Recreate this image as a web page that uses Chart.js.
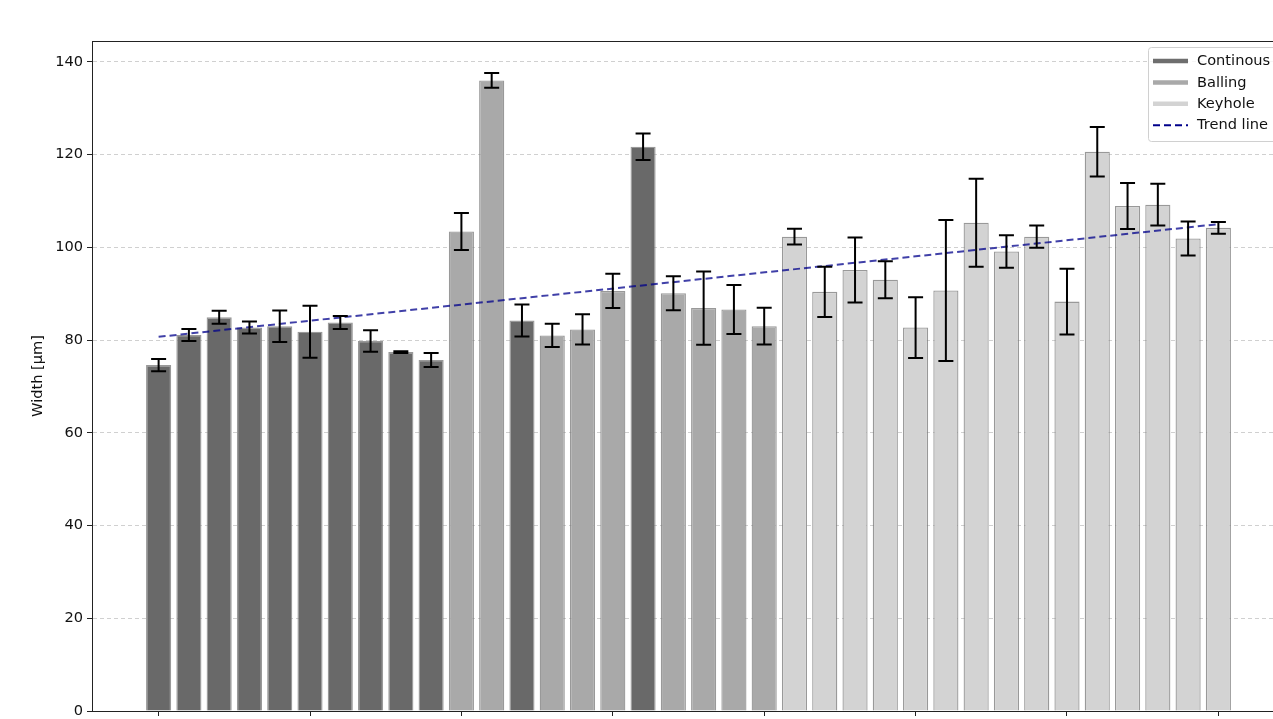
<!DOCTYPE html>
<html>
<head>
<meta charset="utf-8">
<script src="https://cdn.jsdelivr.net/npm/chart.js@4/dist/chart.umd.min.js"></script>
<style>
  html, body { margin: 0; padding: 0; background: #fff; overflow: hidden; }
  #chart { position: absolute; left: 0; top: 0; }
</style>
</head>
<body>
<canvas id="chart" width="1300" height="760"></canvas>
<script>
// mean width per sample, its error and the melt mode
const widths = [74.6, 81.1, 84.9, 82.7, 83.0, 81.8, 83.8, 79.8, 77.4, 75.7,
  103.4, 136.0, 84.2, 81.0, 82.3, 90.6, 121.7, 90.1, 86.9, 86.6, 83.0,
  102.3, 90.4, 95.1, 93.0, 82.7, 90.7, 105.3, 99.1, 102.3, 88.3, 120.6, 108.9, 109.2, 101.9, 104.2];
const errors = [1.3, 1.3, 1.4, 1.3, 3.4, 5.6, 1.4, 2.3, 0.2, 1.5,
  4.0, 1.6, 3.45, 2.5, 3.25, 3.7, 2.85, 3.65, 7.9, 5.3, 3.95,
  1.7, 5.4, 7.0, 4.0, 6.55, 15.2, 9.5, 3.5, 2.4, 7.1, 5.35, 4.95, 4.5, 3.65, 1.25];
const modes = ['C', 'C', 'C', 'C', 'C', 'C', 'C', 'C', 'C', 'C',
  'B', 'B', 'C', 'B', 'B', 'B', 'C', 'B', 'B', 'B', 'B',
  'K', 'K', 'K', 'K', 'K', 'K', 'K', 'K', 'K', 'K', 'K', 'K', 'K', 'K', 'K'];
const trendX = [0, 35];
const trendY = [80.7, 105.0];
const xTicks = [0, 5, 10, 15, 20, 25, 30, 35];
const yTicks = [0, 20, 40, 60, 80, 100, 120, 140];

const modeColors = { C: '#696969', B: '#a9a9a9', K: '#d3d3d3' };
const legendItems = [
  { label: 'Continous', color: '#6e6e6e', dash: [] },
  { label: 'Balling', color: '#a9a9a9', dash: [] },
  { label: 'Keyhole', color: '#d3d3d3', dash: [] },
  { label: 'Trend line', color: '#00008b', dash: [7, 4] }
];
const font = 'DejaVu Sans';
const fontSize = 14.6;

const errorBars = {
  id: 'errorBars',
  afterDatasetsDraw(chart) {
    const { ctx, scales: { x, y } } = chart;
    ctx.save();
    ctx.strokeStyle = '#000';
    ctx.lineWidth = 2;
    widths.forEach((w, i) => {
      const px = x.getPixelForValue(i);
      const top = y.getPixelForValue(w + errors[i]);
      const bot = y.getPixelForValue(w - errors[i]);
      ctx.beginPath();
      ctx.moveTo(px, top); ctx.lineTo(px, bot);
      ctx.moveTo(px - 7.5, top); ctx.lineTo(px + 7.5, top);
      ctx.moveTo(px - 7.5, bot); ctx.lineTo(px + 7.5, bot);
      ctx.stroke();
    });
    ctx.restore();
  },
  afterDraw(chart) {
    const { ctx, chartArea: a } = chart;
    ctx.save();
    // frame
    ctx.strokeStyle = '#222';
    ctx.lineWidth = 1;
    ctx.strokeRect(a.left + 0.5, a.top + 0.5, a.right - a.left, a.bottom - a.top);
    // legend
    const lx = 1148, ly = 47;
    ctx.fillStyle = 'rgba(255,255,255,0.8)';
    ctx.strokeStyle = '#d0d0d0';
    ctx.beginPath();
    ctx.roundRect(lx + 0.5, ly + 0.5, 150, 94, 3);
    ctx.fill();
    ctx.stroke();
    ctx.font = fontSize + 'px "' + font + '"';
    ctx.textBaseline = 'middle';
    legendItems.forEach((it, k) => {
      const cy = 61 + k * 21.4;
      ctx.strokeStyle = it.color;
      ctx.lineWidth = it.dash.length ? 2 : 4.5;
      ctx.setLineDash(it.dash);
      ctx.beginPath();
      ctx.moveTo(1153, cy); ctx.lineTo(1188, cy);
      ctx.stroke();
      ctx.setLineDash([]);
      ctx.fillStyle = '#111';
      ctx.fillText(it.label, 1197, cy + 0.5);
    });
    ctx.restore();
  }
};

new Chart(document.getElementById('chart'), {
  data: {
    datasets: [
      {
        type: 'line',
        data: trendX.map((v, i) => ({ x: v, y: trendY[i] })),
        borderColor: 'rgba(0, 0, 139, 0.75)',
        borderWidth: 2,
        borderDash: [7, 4],
        pointRadius: 0,
        fill: false,
        order: 0
      },
      {
        type: 'bar',
        data: widths.map((v, i) => ({ x: i, y: v })),
        backgroundColor: modes.map(m => modeColors[m]),
        borderColor: 'rgba(128,128,128,0.8)',
        borderWidth: 1.3,
        barPercentage: 0.83,
        categoryPercentage: 1,
        order: 1
      }
    ]
  },
  options: {
    responsive: false,
    animation: false,
    layout: { padding: { left: 0, right: 15, top: 41, bottom: 0 } },
    plugins: { legend: { display: false }, tooltip: { enabled: false } },
    scales: {
      x: {
        type: 'linear',
        min: -2.2,
        max: 37.2,
        offset: false,
        afterBuildTicks: s => { s.ticks = xTicks.map(v => ({ value: v })); },
        afterFit: s => { s.height = 49; },
        grid: { offset: false, drawOnChartArea: false, drawTicks: true, tickLength: 5, tickColor: '#222', tickWidth: 1 },
        border: { color: '#222', width: 1 },
        ticks: { color: '#111', font: { family: font, size: fontSize }, padding: 3 }
      },
      y: {
        min: 0,
        max: 144.5,
        z: 1,
        afterBuildTicks: s => { s.ticks = yTicks.map(v => ({ value: v })); },
        afterFit: s => { s.width = 92; },
        grid: { color: 'rgba(150,150,150,0.45)', lineWidth: 1, tickLength: 5, tickColor: '#222', tickWidth: 1, tickBorderDash: [] },
        border: { color: '#222', width: 1, dash: [4, 3] },
        ticks: { color: '#111', font: { family: font, size: fontSize }, padding: 4 },
        title: { display: true, text: 'Width [µm]', color: '#111', font: { family: font, size: fontSize }, padding: { top: 29.5, bottom: 0 } }
      }
    }
  },
  plugins: [errorBars]
});
</script>
</body>
</html>
